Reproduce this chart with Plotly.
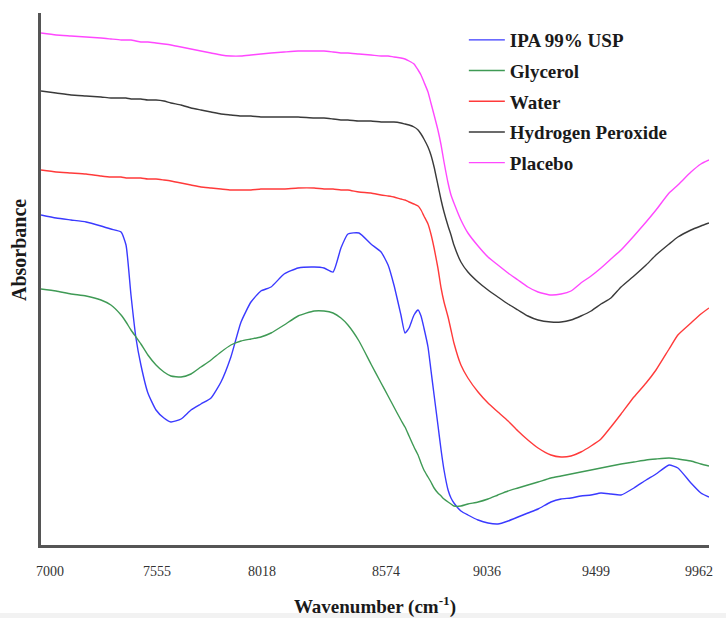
import plotly.graph_objects as go

# Wavenumber grid (cm^-1) shared by all spectra
wavenumber = [7000, 7067, 7133, 7200, 7266, 7310, 7355, 7377, 7399, 7421, 7443, 7474,
              7510, 7545, 7576, 7621, 7665, 7709, 7754, 7798, 7842, 7887, 7931, 7975,
              8020, 8078, 8140, 8211, 8255, 8295, 8330, 8361, 8410, 8463, 8508, 8539,
              8565, 8596, 8614, 8632, 8654, 8672, 8685, 8698, 8716, 8729, 8743, 8760,
              8774, 8787, 8805, 8818, 8831, 8862, 8893, 8938, 8982, 9026, 9071, 9115,
              9159, 9204, 9261, 9306, 9350, 9394, 9439, 9483, 9527, 9572, 9629, 9683,
              9727, 9785, 9824, 9882, 9926, 9962]

# Absorbance (arbitrary units, offset spectra)
ipa = [330, 327, 325, 323, 319, 316, 313, 300, 250, 207, 180, 152,
       135, 127, 123, 126, 135, 141, 147, 163, 188, 223, 243, 254,
       258, 271, 277, 278, 277, 273, 297, 311, 312, 301, 293, 280,
       260, 230, 212, 217, 230, 235, 229, 217, 198, 175, 150, 120,
       95, 75, 55, 47, 42, 34, 30, 25, 22, 21, 24, 28,
       32, 36, 43, 46, 47, 49, 50, 52, 51, 50, 57, 65,
       71, 80, 77, 62, 52, 48]

glycerol = [256, 254, 251, 249, 245, 240, 230, 223, 215, 208, 201, 190,
            180, 173, 169, 168, 171, 178, 185, 193, 200, 204, 206, 208,
            212, 220, 229, 234, 234, 232, 227, 220, 204, 181, 162, 149,
            138, 125, 118, 109, 98, 90, 82, 75, 68, 63, 57, 52,
            49, 46, 43, 41, 39, 39, 41, 43, 46, 50, 54, 57,
            60, 63, 67, 69, 71, 73, 75, 77, 79, 81, 83, 85,
            86, 87, 86, 84, 81, 79]

water = [375, 373, 372, 371, 369, 368, 368, 367, 367, 367, 367, 366,
         366, 365, 364, 362, 360, 358, 357, 356, 355, 355, 355, 356,
         356, 356, 357, 357, 356, 356, 355, 355, 353, 352, 350, 349,
         348, 346, 345, 343, 341, 339, 335, 329, 321, 311, 297, 277,
         257, 243, 228, 215, 202, 180, 167, 153, 142, 133, 124, 114,
         105, 97, 90, 88, 89, 93, 99, 106, 118, 131, 148, 162,
         175, 196, 210, 222, 231, 237]

peroxide = [454, 452, 450, 449, 448, 447, 447, 447, 446, 446, 446, 445,
            445, 444, 442, 440, 437, 435, 433, 431, 430, 429, 429, 428,
            428, 428, 428, 427, 427, 426, 425, 425, 424, 424, 423, 423,
            423, 422, 421, 420, 418, 415, 411, 406, 398, 390, 378, 360,
            345, 333, 319, 310, 300, 283, 273, 263, 255, 248, 241, 235,
            229, 225, 223, 223, 225, 229, 234, 241, 247, 258, 269, 280,
            290, 301, 308, 315, 319, 322]

placebo = [512, 510, 509, 508, 507, 506, 505, 505, 505, 504, 503, 503,
           502, 501, 500, 498, 496, 494, 492, 490, 489, 489, 490, 491,
           492, 493, 494, 494, 494, 493, 492, 492, 491, 490, 489, 489,
           488, 487, 486, 484, 481, 475, 470, 463, 453, 442, 430, 415,
           400, 383, 362, 350, 342, 325, 312, 299, 288, 280, 272, 265,
           258, 253, 250, 251, 254, 262, 269, 277, 286, 295, 309, 323,
           335, 352, 360, 373, 381, 385]

series_names = ["IPA 99% USP", "Glycerol", "Water", "Hydrogen Peroxide", "Placebo"]
series_values = [ipa, glycerol, water, peroxide, placebo]
series_colors = ["#3a3aff", "#3f9a55", "#ff3a3a", "#3a3a3a", "#ff48ff"]

tick_labels = ["7000", "7555", "8018", "8574", "9036", "9499", "9962"]
tick_positions = [7040, 7514, 7980, 8530, 8978, 9461, 9918]

serif = "Liberation Serif, Times New Roman, serif"

fig = go.Figure()
for i, (name, vals, col) in enumerate(zip(series_names, series_values, series_colors)):
    fig.add_trace(go.Scatter(
        x=wavenumber, y=vals, mode="lines", name=name,
        line=dict(color=col, width=1.4, shape="spline", smoothing=0.5),
        legendgroup=f"g{i}",
    ))

fig.update_layout(
    width=726, height=618,
    margin=dict(l=41, r=17, t=13, b=73),
    paper_bgcolor="white", plot_bgcolor="white",
    showlegend=True,
    legend=dict(
        x=0.633, y=0.985, xanchor="left", yanchor="top",
        font=dict(family=serif, size=19, color="#1a1a1a", weight="bold"),
        bgcolor="rgba(0,0,0,0)", tracegroupgap=3,
        itemwidth=36,
    ),
    xaxis=dict(
        range=[7000, 9962], showgrid=False, zeroline=False,
        showline=True, linecolor="#555555", linewidth=2.5,
        tickmode="array", tickvals=tick_positions, ticktext=tick_labels,
        ticks="", tickfont=dict(family=serif, size=14, color="#333333"),
        ticklabelstandoff=11,
        automargin=False,
        title=dict(text="<b>Wavenumber (cm<sup>-1</sup>)</b>",
                   font=dict(family=serif, size=19, color="#1a1a1a"),
                   standoff=31),
    ),
    yaxis=dict(
        range=[0, 532], showgrid=False, zeroline=False,
        showline=True, linecolor="#555555", linewidth=2.5,
        showticklabels=False, ticks="", automargin=False,
    ),
    annotations=[dict(
        text="<b>Absorbance</b>", textangle=-90,
        xref="paper", yref="paper", x=-0.0329, y=0.5545,
        xanchor="center", yanchor="middle", showarrow=False,
        font=dict(family=serif, size=20, color="#1a1a1a"),
    )],
    shapes=[dict(
        type="rect", xref="paper", yref="paper",
        x0=-0.1, x1=1.1, y0=-0.14, y1=-0.128,
        fillcolor="#f2f2f2", line=dict(width=0), layer="below",
    )],
)

fig.write_html("out.html")
